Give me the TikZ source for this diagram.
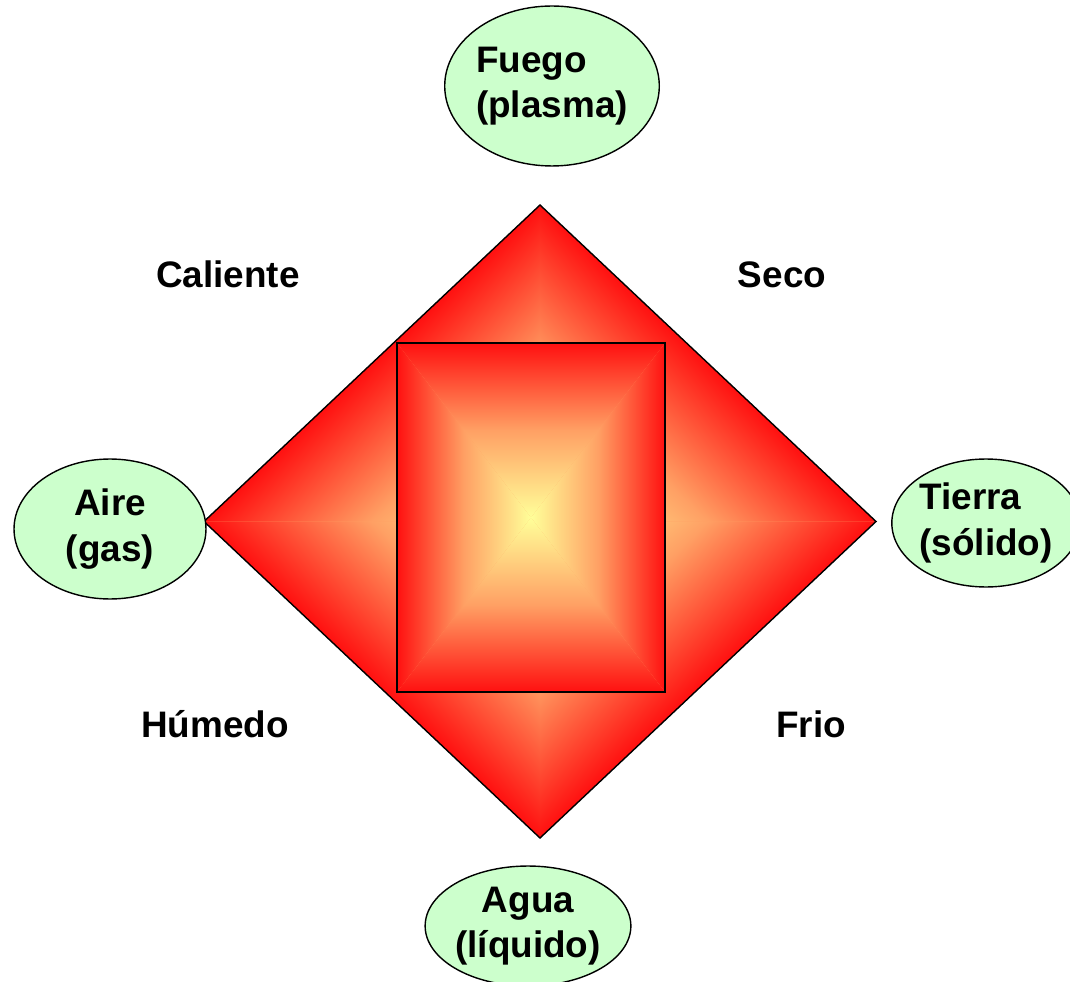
\documentclass[tikz,border=0pt]{standalone}
\usepackage{fontspec}
\setmainfont{Liberation Sans}
\usetikzlibrary{shapes.geometric}
\definecolor{elemgreen}{RGB}{204,255,204}
\definecolor{hotred}{RGB}{255,16,16}
\definecolor{warmorange}{RGB}{255,160,100}
\definecolor{paleyellow}{RGB}{255,255,153}

\begin{document}
\begin{tikzpicture}[x=0.02cm,y=-0.02cm,
    element/.style={ellipse,draw,line width=0.8pt,fill=elemgreen,inner sep=0pt,
      font=\fontsize{21}{26}\selectfont\bfseries},
    quality/.style={anchor=base,font=\fontsize{21}{26}\selectfont\bfseries}]
  \useasboundingbox (0,0) rectangle (1070,982);
  \coordinate (top) at (540,205);
  \coordinate (right) at (876,521.5);
  \coordinate (bottom) at (540,838);
  \coordinate (left) at (204,521.5);
  \coordinate (ca) at (397,343);
  \coordinate (cb) at (665,343);
  \coordinate (cc) at (665,692);
  \coordinate (cd) at (397,692);
  \coordinate (mid) at (531,517.5);
  % diamond
  \fill[warmorange] (top)--(right)--(bottom)--(left)--cycle;
  \begin{scope}[x=1cm,y=1cm,transform canvas={cm={3.36,3.165,-3.36,3.165,(10.8cm,-10.43cm)}}]
    \shade[top color=hotred,bottom color=paleyellow,middle color=warmorange] (0,0)--(-1,1)--(1,1)--cycle;
    \shade[top color=paleyellow,bottom color=hotred,middle color=warmorange] (0,0)--(-1,-1)--(1,-1)--cycle;
    \shade[left color=paleyellow,right color=hotred,middle color=warmorange] (0,0)--(1,1)--(1,-1)--cycle;
    \shade[left color=hotred,right color=paleyellow,middle color=warmorange] (0,0)--(-1,1)--(-1,-1)--cycle;
  \end{scope}
  \draw[line width=0.8pt] (top)--(right)--(bottom)--(left)--cycle;
  % square inside
  \fill[warmorange] (ca) rectangle (cc);
  \shade[top color=hotred,bottom color=paleyellow,middle color=warmorange] (mid)--(ca)--(cb)--cycle;
  \shade[top color=paleyellow,bottom color=hotred,middle color=warmorange] (mid)--(cd)--(cc)--cycle;
  \shade[left color=hotred,right color=paleyellow,middle color=warmorange] (mid)--(ca)--(cd)--cycle;
  \shade[left color=paleyellow,right color=hotred,middle color=warmorange] (mid)--(cb)--(cc)--cycle;
  \draw[line width=0.8pt] (ca) rectangle (cc);
  % the four elements
  \node[element,minimum width=4.2cm,minimum height=3.2cm,align=left] (fuego) at (552,86) {Fuego\\(plasma)};
  \node[element,minimum width=3.84cm,minimum height=2.8cm,align=center] (aire) at (110,529) {Aire\\(gas)};
  \node[element,minimum width=3.72cm,minimum height=2.56cm,align=left] (tierra) at (986,523) {Tierra\\(sólido)};
  \node[element,minimum width=3.96cm,minimum height=2.4cm,align=center] (agua) at (528,926) {Agua\\(líquido)};
  % qualities
  \node[quality] (caliente) at (228,288) {Caliente};
  \node[quality] (seco) at (782,288) {Seco};
  \node[quality] (humedo) at (215,737) {Húmedo};
  \node[quality] (frio) at (811,737) {Frio};
\end{tikzpicture}
\end{document}
